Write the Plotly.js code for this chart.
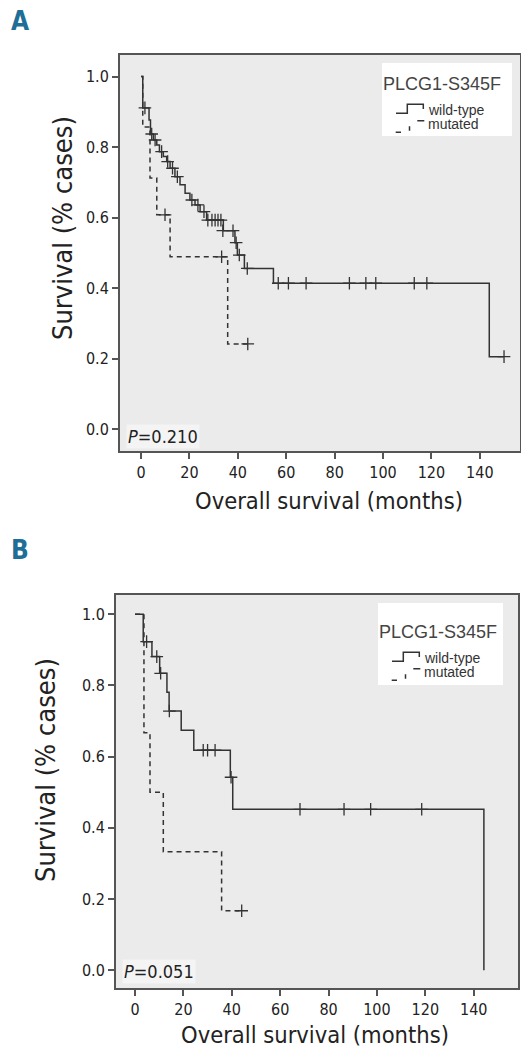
<!DOCTYPE html>
<html>
<head>
<meta charset="utf-8">
<script src="https://cdn.plot.ly/plotly-3.0.1.min.js"></script>
<style>
  html, body { margin: 0; padding: 0; background: #ffffff; }
  #chart { width: 521px; height: 1055px; }
</style>
</head>
<body>
<div id="chart"></div>
<script>
// ---------- Panel A: Kaplan-Meier overall survival by PLCG1-S345F status ----------
const aWildTime = [0, 0.7, 3.3, 3.9, 5.1, 6.5, 7.6, 9.2, 10.6, 12.0, 14.0, 16.1, 18.2, 20.2, 22.3, 24.4, 27.1, 34.0, 38.8, 39.8, 42.7, 54.7, 143.9];
const aWildSurv = [1.0, 0.911, 0.877, 0.837, 0.820, 0.806, 0.787, 0.773, 0.759, 0.740, 0.716, 0.693, 0.669, 0.650, 0.636, 0.617, 0.593, 0.563, 0.529, 0.494, 0.456, 0.414, 0.206];
const aWildLast = 150.0;
const aWildCensTime = [1.6, 4.4, 5.8, 8.5, 11.0, 13.0, 15.0, 21.0, 23.5, 26.0, 27.6, 29.3, 30.6, 31.8, 33.0, 33.8, 38.0, 39.3, 40.6, 43.9, 56.7, 60.9, 68.2, 86.1, 92.9, 97.0, 112.9, 118.1, 150.0];
const aWildCensSurv = [0.911, 0.837, 0.820, 0.787, 0.759, 0.740, 0.716, 0.650, 0.636, 0.617, 0.593, 0.593, 0.593, 0.593, 0.593, 0.563, 0.563, 0.529, 0.494, 0.456, 0.414, 0.414, 0.414, 0.414, 0.414, 0.414, 0.414, 0.414, 0.206];

const aMutTime = [0, 0.7, 3.7, 6.5, 12.0, 35.8];
const aMutSurv = [1.0, 0.857, 0.712, 0.608, 0.489, 0.242];
const aMutLast = 44.1;
const aMutCensTime = [9.9, 33.3, 44.1];
const aMutCensSurv = [0.608, 0.489, 0.242];

// ---------- Panel B ----------
const bWildTime = [0, 3.4, 7.0, 10.2, 13.2, 14.1, 19.1, 24.3, 39.4, 40.4, 144.2];
const bWildSurv = [1.0, 0.923, 0.881, 0.834, 0.781, 0.728, 0.674, 0.618, 0.542, 0.452, 0.0];
const bWildLast = 144.2;
const bWildCensTime = [4.8, 9.0, 10.6, 14.2, 28.2, 30.0, 33.1, 39.7, 68.2, 86.4, 97.4, 118.5];
const bWildCensSurv = [0.923, 0.881, 0.834, 0.728, 0.618, 0.618, 0.618, 0.542, 0.452, 0.452, 0.452, 0.452];

const bMutTime = [0, 3.7, 6.2, 11.7, 35.8];
const bMutSurv = [1.0, 0.667, 0.5, 0.333, 0.167];
const bMutLast = 44.1;
const bMutCensTime = [44.1];
const bMutCensSurv = [0.167];

const monthTicks = [0, 20, 40, 60, 80, 100, 120, 140];
const survTicks = [0.0, 0.2, 0.4, 0.6, 0.8, 1.0];
const survTickText = ['0.0', '0.2', '0.4', '0.6', '0.8', '1.0'];
const pValues = ['0.210', '0.051'];
const groupNames = ['wild-type', 'mutated'];
const geneLabel = 'PLCG1-S345F';
const panelLetters = ['A', 'B'];

// ---------- styling ----------
const W = 521, H = 1055;
const px = v => v / W;
const py = v => 1 - v / H;
const INK = '#333333';
const FRAME = '#555555';
const NARROW = "'DejaVu Sans Condensed', 'DejaVu Sans', sans-serif";
const SANS = "'Liberation Sans', Arial, sans-serif";

function stepTrace(t, s, last, xa, ya, dash) {
  return {
    type: 'scatter', mode: 'lines', xaxis: xa, yaxis: ya,
    x: t.concat([last]), y: s.concat([s[s.length - 1]]),
    line: { shape: 'hv', color: INK, width: 1.5, dash: dash },
    hoverinfo: 'skip'
  };
}
function censorTrace(t, s, xa, ya) {
  return {
    type: 'scatter', mode: 'markers', xaxis: xa, yaxis: ya,
    x: t, y: s,
    marker: { symbol: 'cross-thin', size: 9, color: INK, line: { color: INK, width: 1.3 } },
    hoverinfo: 'skip'
  };
}

const traces = [
  stepTrace(aWildTime, aWildSurv, aWildLast, 'x', 'y', 'solid'),
  stepTrace(aMutTime, aMutSurv, aMutLast, 'x', 'y', '5px,4px'),
  censorTrace(aWildCensTime, aWildCensSurv, 'x', 'y'),
  censorTrace(aMutCensTime, aMutCensSurv, 'x', 'y'),
  stepTrace(bWildTime, bWildSurv, bWildLast, 'x2', 'y2', 'solid'),
  stepTrace(bMutTime, bMutSurv, bMutLast, 'x2', 'y2', '5px,4px'),
  censorTrace(bWildCensTime, bWildCensSurv, 'x2', 'y2'),
  censorTrace(bMutCensTime, bMutCensSurv, 'x2', 'y2')
];

const tickFont = { family: NARROW, size: 16, color: '#222' };
function xAxis(domain, range, anchor) {
  return {
    domain: domain, range: range, anchor: anchor,
    tickmode: 'array', tickvals: monthTicks,
    ticks: 'outside', ticklen: 6, tickwidth: 2, tickcolor: FRAME,
    showline: true, mirror: true, linecolor: FRAME, linewidth: 2,
    showgrid: false, zeroline: false, tickfont: tickFont
  };
}
function yAxis(domain, range, anchor) {
  return {
    domain: domain, range: range, anchor: anchor,
    tickmode: 'array', tickvals: survTicks, ticktext: survTickText,
    ticks: 'outside', ticklen: 6, tickwidth: 2, tickcolor: FRAME,
    showline: true, mirror: true, linecolor: FRAME, linewidth: 2,
    showgrid: false, zeroline: false, tickfont: tickFont
  };
}

// legend box for one panel: box corner, size, and where its first text row sits
function legendParts(left, top, width, height, titleY) {
  const r = y => py(titleY + y);          // rows measured from the title line
  const c = x => px(left + x);
  const shapes = [
    { type: 'rect', xref: 'paper', yref: 'paper',
      x0: px(left), x1: px(left + width), y0: py(top), y1: py(top + height),
      fillcolor: '#ffffff', line: { width: 0 }, layer: 'above' },
    // stepped solid glyph
    { type: 'path', xref: 'paper', yref: 'paper', layer: 'above',
      path: `M${c(14)},${r(29.3)} H${c(25.3)} V${r(20.3)} H${c(41.3)} V${r(25)}`,
      line: { color: INK, width: 1.5 } },
    // broken glyph: low dash, tick, high dash
    { type: 'path', xref: 'paper', yref: 'paper', layer: 'above',
      path: `M${c(13.7)},${r(48.3)} H${c(19)} M${c(27.5)},${r(42.3)} V${r(46.8)} M${c(35.3)},${r(36.7)} H${c(42.3)}`,
      line: { color: INK, width: 1.5 } }
  ];
  const annos = [
    { text: geneLabel, x: px(left + 60), y: py(titleY), xanchor: 'center', yanchor: 'middle',
      font: { family: SANS, size: 18, color: '#444' } },
    { text: groupNames[0], x: c(44), y: r(25.5), xanchor: 'left', yanchor: 'middle',
      font: { family: SANS, size: 14, color: '#333' } },
    { text: groupNames[1], x: c(44), y: r(39.5), xanchor: 'left', yanchor: 'middle',
      font: { family: SANS, size: 14, color: '#333' } }
  ];
  annos.forEach(a => { a.xref = 'paper'; a.yref = 'paper'; a.showarrow = false; });
  return { shapes, annos };
}

const legA = legendParts(382, 63, 130, 73, 84);
const legB = legendParts(378, 603, 125, 82, 632);

function txt(text, x, y, font, extra) {
  return Object.assign({ text, x: px(x), y: py(y), xref: 'paper', yref: 'paper', showarrow: false,
    xanchor: 'center', yanchor: 'middle', font }, extra || {});
}
const letterFont = { family: NARROW, size: 26, color: '#1f6e97', weight: 'bold' };
const yTitleFont = { family: NARROW, size: 27, color: '#222' };
const xTitleFont = { family: NARROW, size: 23.5, color: '#222' };
const pFont = { family: NARROW, size: 18, color: '#222' };

const annotations = [
  txt('<b>' + panelLetters[0] + '</b>', 9, 21, letterFont, { xanchor: 'left' }),
  txt('<b>' + panelLetters[1] + '</b>', 9, 550, letterFont, { xanchor: 'left' }),
  txt('Survival (% cases)', 62, 228, yTitleFont, { textangle: -90 }),
  txt('Survival (% cases)', 45, 770, yTitleFont, { textangle: -90 }),
  txt('Overall survival (months)', 329, 501, xTitleFont),
  txt('Overall survival (months)', 315, 1035, xTitleFont),
  txt('<i>P</i>=' + pValues[0], 126, 436, pFont, { xanchor: 'left', bgcolor: '#f4f4f4', borderpad: 1 }),
  txt('<i>P</i>=' + pValues[1], 122, 971, pFont, { xanchor: 'left', bgcolor: '#f4f4f4', borderpad: 1 })
].concat(legA.annos, legB.annos);

const layout = {
  width: W, height: H,
  margin: { l: 0, r: 0, t: 0, b: 0, pad: 0 },
  paper_bgcolor: '#ffffff',
  plot_bgcolor: '#ebebeb',
  showlegend: false,
  xaxis: xAxis([px(120), px(520)], [-8.7, 156.6], 'y'),
  yaxis: yAxis([py(451), py(55)], [-0.0615, 1.061], 'x'),
  xaxis2: xAxis([px(116), px(518)], [-7.85, 158.3], 'y2'),
  yaxis2: yAxis([py(988), py(595)], [-0.050, 1.054], 'x2'),
  shapes: legA.shapes.concat(legB.shapes),
  annotations: annotations
};

Plotly.newPlot('chart', traces, layout, { displayModeBar: false, staticPlot: true });
</script>
</body>
</html>
